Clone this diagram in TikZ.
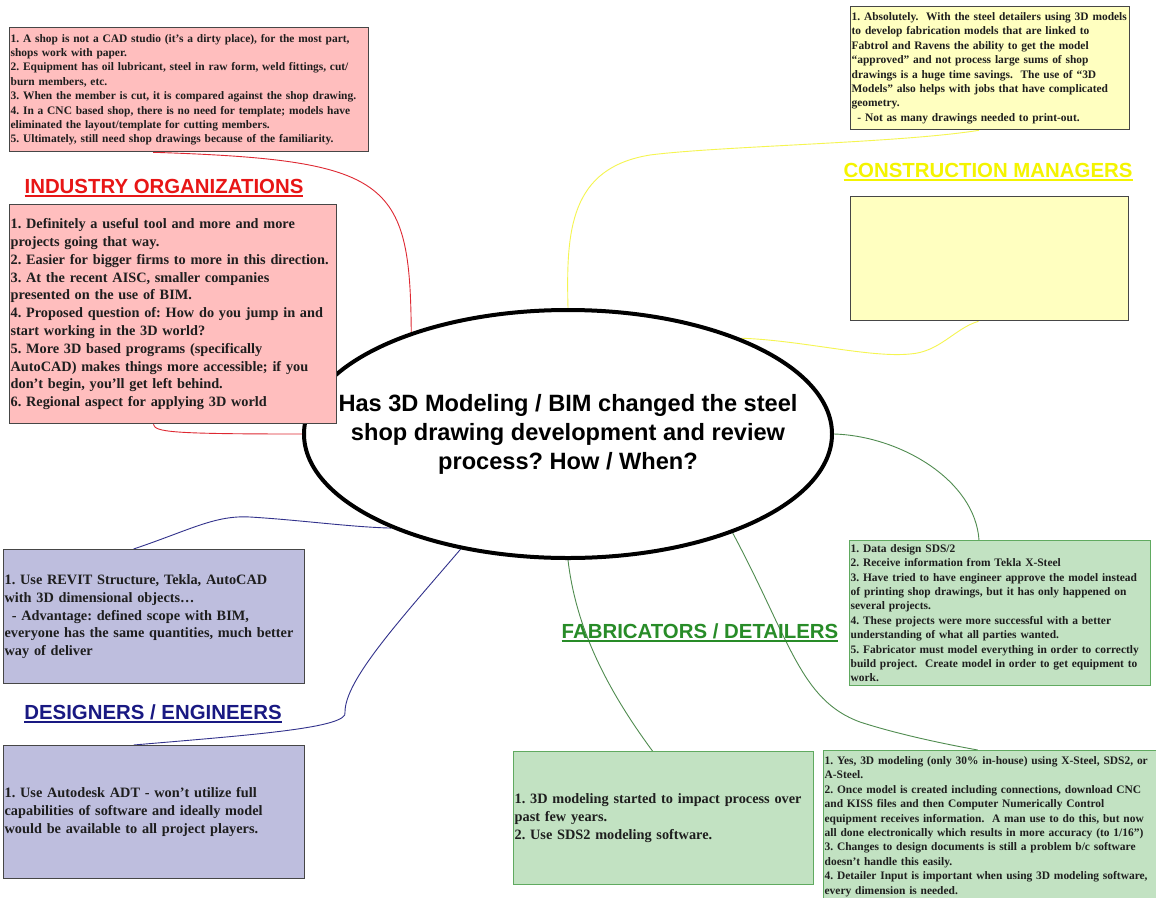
\documentclass[tikz,border=0pt]{standalone}
\usepackage{fontspec}
\setmainfont{Liberation Serif}
\setsansfont{Liberation Sans}
\usepackage{tikz}
\usetikzlibrary{calc,backgrounds,shapes.geometric}
\usepackage{xcolor}
\frenchspacing
\definecolor{ink}{RGB}{30,30,30}
\definecolor{rim}{RGB}{70,70,70}
\definecolor{redF}{RGB}{255,190,190}
\definecolor{yelF}{RGB}{255,255,192}
\definecolor{grnF}{RGB}{194,226,194}
\definecolor{bluF}{RGB}{190,190,222}
\definecolor{grnD}{RGB}{96,170,96}
\definecolor{redT}{RGB}{232,22,22}
\definecolor{yelT}{RGB}{244,244,0}
\definecolor{grnT}{RGB}{40,140,40}
\definecolor{bluT}{RGB}{25,25,130}
\definecolor{redL}{RGB}{222,40,50}
\definecolor{yelL}{RGB}{245,245,80}
\definecolor{grnL}{RGB}{80,140,80}
\definecolor{bluL}{RGB}{50,50,140}
\tikzset{
  box/.style={rectangle,draw=rim,line width=1.3pt,anchor=north west,inner xsep=0.6pt,inner ysep=0pt,align=left,text=ink},
  sm/.style={font=\fontsize{11.45}{14.4}\selectfont\bfseries},
  bg/.style={font=\fontsize{14.3}{17.8}\selectfont\bfseries},
  ttl/.style={font=\fontsize{20.4}{24}\selectfont\sffamily\bfseries,anchor=base,inner sep=0pt},
  qbub/.style={ellipse,draw=black,fill=white,line width=4pt,minimum width=528pt,minimum height=248pt,inner sep=0pt},
  qtxt/.style={font=\fontsize{23.6}{29}\selectfont\sffamily\bfseries,align=center,inner sep=0pt},
  lnk/.style={line width=0.9pt},
}
\newcommand{\ttlul}[1]{\leavevmode\setbox0\hbox{#1}\rlap{\vrule height -1.5pt depth 3.6pt width \wd0}\box0}

\begin{document}
\begin{tikzpicture}[x=1pt,y=-1pt]
\useasboundingbox (0,0) rectangle (1156,897);

% central question
\node[qbub] (q) at (568,434) {};
\node[qtxt] (qt) at (q.center) {Has 3D Modeling / BIM changed the steel\\shop drawing development and review\\process? How / When?};

% industry organizations
\node[box,sm,fill=redF,minimum width=359pt,minimum height=124pt,text width=357pt] (io1) at (9,27)
  {1. A shop is not a CAD studio (it’s a dirty place), for the most part,\\
   shops work with paper.\\
   2. Equipment has oil lubricant, steel in raw form, weld fittings, cut/\\
   burn members, etc.\\
   3. When the member is cut, it is compared against the shop drawing.\\
   4. In a CNC based shop, there is no need for template; models have\\
   eliminated the layout/template for cutting members.\\
   5. Ultimately, still need shop drawings because of the familiarity.};
\node[ttl,text=redT] (iot) at (164,193) {\ttlul{INDUSTRY ORGANIZATIONS}};
\node[box,bg,fill=redF,minimum width=327pt,minimum height=219pt,text width=325pt] (io2) at (9,204)
  {1. Definitely a useful tool and more and more\\
   projects going that way.\\
   2. Easier for bigger firms to more in this direction.\\
   3. At the recent AISC, smaller companies\\
   presented on the use of BIM.\\
   4. Proposed question of: How do you jump in and\\
   start working in the 3D world?\\
   5. More 3D based programs (specifically\\
   AutoCAD) makes things more accessible; if you\\
   don’t begin, you’ll get left behind.\\
   6. Regional aspect for applying 3D world};

% construction managers
\node[box,sm,fill=yelF,minimum width=279pt,minimum height=123pt,text width=277pt] (cm1) at (850,6)
  {1. Absolutely.~ With the steel detailers using 3D models\\
   to develop fabrication models that are linked to\\
   Fabtrol and Ravens the ability to get the model\\
   “approved” and not process large sums of shop\\
   drawings is a huge time savings.~ The use of “3D\\
   Models” also helps with jobs that have complicated\\
   geometry.\\
   \hspace*{0.5em}- Not as many drawings needed to print-out.};
\node[ttl,text=yelT] (cmt) at (988,177) {\ttlul{CONSTRUCTION MANAGERS}};
\node[box,fill=yelF,minimum width=278pt,minimum height=124pt] (cm2) at (850,196) {};

% fabricators / detailers
\node[box,sm,draw=grnD,fill=grnF,minimum width=301pt,minimum height=145pt,text width=299pt] (fd1) at (849,540)
  {1. Data design SDS/2\\
   2. Receive information from Tekla X-Steel\\
   3. Have tried to have engineer approve the model instead\\
   of printing shop drawings, but it has only happened on\\
   several projects.\\
   4. These projects were more successful with a better\\
   understanding of what all parties wanted.\\
   5. Fabricator must model everything in order to correctly\\
   build project.~ Create model in order to get equipment to\\
   work.};
\node[ttl,text=grnT] (fdt) at (700,638) {\ttlul{FABRICATORS / DETAILERS}};
\node[box,sm,draw=grnD,fill=grnF,minimum width=335pt,minimum height=152pt,text width=333pt] (fd2) at (823,750)
  {1. Yes, 3D modeling (only 30\% in-house) using X-Steel, SDS2, or\\
   A-Steel.\\
   2. Once model is created including connections, download CNC\\
   and KISS files and then Computer Numerically Control\\
   equipment receives information.~ A man use to do this, but now\\
   all done electronically which results in more accuracy (to 1/16”)\\
   3. Changes to design documents is still a problem b/c software\\
   doesn’t handle this easily.\\
   4. Detailer Input is important when using 3D modeling software,\\
   every dimension is needed.};
\node[box,bg,draw=grnD,fill=grnF,minimum width=300pt,minimum height=133pt,text width=298pt] (fd3) at (513,751)
  {1. 3D modeling started to impact process over\\
   past few years.\\
   2. Use SDS2 modeling software.};

% designers / engineers
\node[box,bg,fill=bluF,minimum width=301pt,minimum height=134pt,text width=299pt] (de1) at (3,549)
  {1. Use REVIT Structure, Tekla, AutoCAD\\
   with 3D dimensional objects…\\
   \hspace*{0.5em}- Advantage: defined scope with BIM,\\
   everyone has the same quantities, much better\\
   way of deliver};
\node[ttl,text=bluT] (det) at (153,719) {\ttlul{DESIGNERS / ENGINEERS}};
\node[box,bg,fill=bluF,minimum width=301pt,minimum height=133pt,text width=299pt] (de2) at (3,745)
  {1. Use Autodesk ADT - won’t utilize full\\
   capabilities of software and ideally model\\
   would be available to all project players.};

% links
\begin{scope}[on background layer]
  \fill[white] (0,0) rectangle (1156,897);
  \draw[lnk,redL] ($(io1.south west)!0.40!(io1.south east)$) .. controls (390,160) and (410,180) .. (q.147);
  \draw[lnk,redL] ($(io2.south west)!0.44!(io2.south east)$) .. controls (155,432) and (170,434) .. (q.west);
  \draw[lnk,yelL] ($(cm1.south west)!0.46!(cm1.south east)$) .. controls (900,143) and (720,146) .. (650,155)
    .. controls (570,168) and (566,230) .. (q.north);
  \draw[lnk,yelL] (q.29) .. controls (800,340) and (870,358) .. (910,354)
    .. controls (940,352) and (955,328) .. ($(cm2.south west)!0.46!(cm2.south east)$);
  \draw[lnk,grnL] (q.east) .. controls (900,436) and (975,480) .. ($(fd1.north west)!0.43!(fd1.north east)$);
  \draw[lnk,grnL] (q.329) .. controls (790,640) and (800,700) .. (860,722)
    .. controls (900,735) and (950,745) .. ($(fd2.north west)!0.46!(fd2.north east)$);
  \draw[lnk,grnL] (q.south) .. controls (575,620) and (600,680) .. ($(fd3.north west)!0.463!(fd3.north east)$);
  \draw[lnk,bluL] ($(de1.north west)!0.432!(de1.north east)$) .. controls (190,530) and (215,515) .. (250,517)
    .. controls (300,520) and (350,527) .. (q.208);
  \draw[lnk,bluL] (q.227) .. controls (400,620) and (345,680) .. (345,712)
    .. controls (350,728) and (250,735) .. ($(de2.north west)!0.432!(de2.north east)$);
\end{scope}
\end{tikzpicture}
\end{document}
